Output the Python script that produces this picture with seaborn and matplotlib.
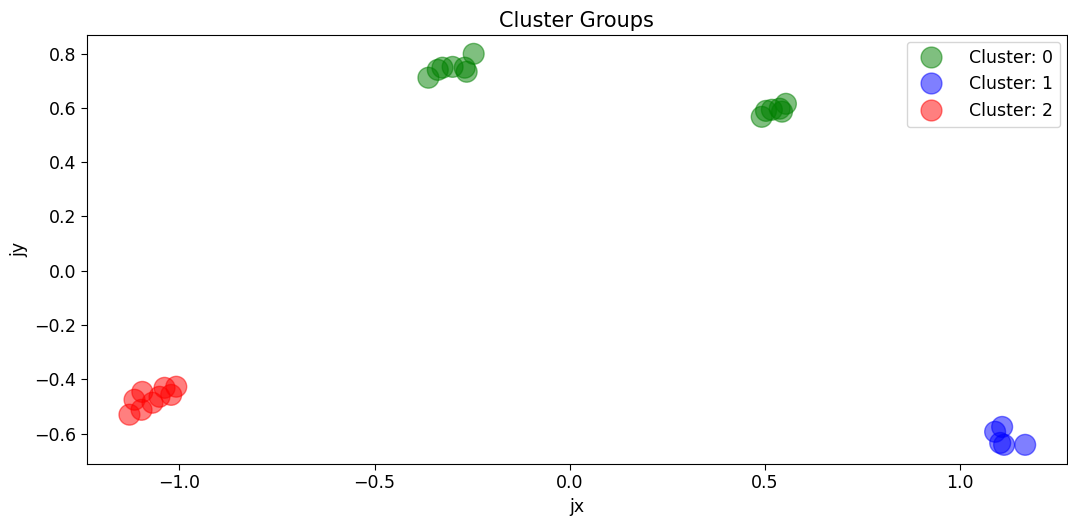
import matplotlib
matplotlib.use("Agg")
import matplotlib.pyplot as plt
import seaborn as sns
import pandas as pd

c0_x = [-0.362, -0.338, -0.326, -0.300, -0.269, -0.264, -0.246,
        0.492, 0.503, 0.518, 0.538, 0.544, 0.554]
c0_y = [0.711, 0.740, 0.748, 0.751, 0.748, 0.733, 0.799,
        0.567, 0.589, 0.593, 0.597, 0.586, 0.615]
c1_x = [1.090, 1.108, 1.103, 1.113, 1.167]
c1_y = [-0.593, -0.575, -0.634, -0.641, -0.641]
c2_x = [-1.128, -1.115, -1.095, -1.097, -1.069, -1.051, -1.038, -1.021, -1.008]
c2_y = [-0.530, -0.475, -0.446, -0.512, -0.486, -0.464, -0.431, -0.457, -0.427]

labels = ["Cluster: 0", "Cluster: 1", "Cluster: 2"]
colors = ["green", "blue", "red"]

df = pd.DataFrame({
    "jx": c0_x + c1_x + c2_x,
    "jy": c0_y + c1_y + c2_y,
    "cluster": [labels[0]] * len(c0_x) + [labels[1]] * len(c1_x) + [labels[2]] * len(c2_x),
})

sns.set_style("white")
plt.rcParams["font.family"] = ["DejaVu Sans"]
for k in ["text.color", "axes.labelcolor", "xtick.color", "ytick.color"]:
    plt.rcParams[k] = "black"
fig, ax = plt.subplots(figsize=(10.68, 5.2), dpi=100)
sns.scatterplot(data=df, x="jx", y="jy", hue="cluster", hue_order=labels,
                palette=colors, s=225, alpha=0.5, edgecolor="face", linewidth=1.0, ax=ax)
ax.set_xlim(-1.238, 1.274)
ax.set_ylim(-0.711, 0.869)
ax.set_title("Cluster Groups", fontsize=15)
ax.set_xlabel("jx", fontsize=12.5)
ax.set_ylabel("jy", fontsize=12.5)
ax.tick_params(labelsize=12.5)
for s in ax.spines.values():
    s.set_color("black")
    s.set_linewidth(0.8)
ax.tick_params(axis="both", which="both", length=4, width=0.8, color="black", direction="out",
               bottom=True, left=True)
ax.legend(title=None, fontsize=12.5, markerscale=1.0, handletextpad=1.2,
          labelspacing=0.5, borderaxespad=0.4, loc="upper right")
fig.subplots_adjust(left=0.081, right=0.999, top=0.933, bottom=0.108)
fig.savefig("out.png", dpi=100)
